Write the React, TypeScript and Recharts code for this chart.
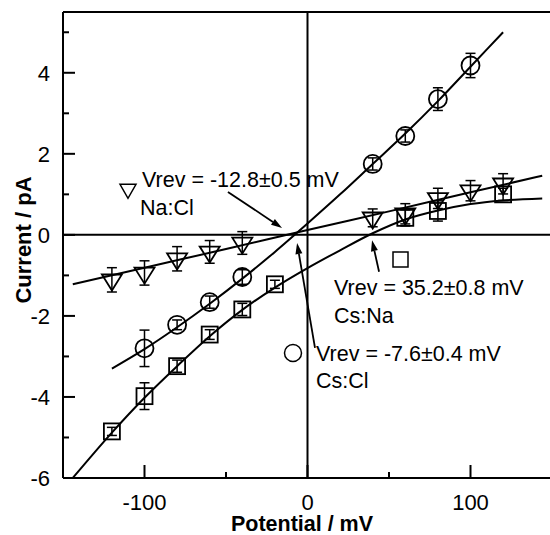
import React from "react";
import {
  ComposedChart, Line, Scatter, ErrorBar, XAxis, YAxis, ReferenceLine, Customized,
} from "recharts";

const FONT = "'Liberation Sans', Arial, Helvetica, sans-serif";

// measured points: potential (mV), current (pA), error (pA)
const csClV = [-100, -80, -60, -40, 40, 60, 80, 100];
const csClI = [-2.8, -2.22, -1.66, -1.04, 1.75, 2.44, 3.35, 4.18];
const csClErr = [0.45, 0.12, 0.15, 0.18, 0.15, 0.15, 0.28, 0.3];

const csNaV = [-120, -100, -80, -60, -40, -20, 60, 80, 120];
const csNaI = [-4.85, -3.98, -3.24, -2.46, -1.84, -1.22, 0.42, 0.59, 1.0];
const csNaErr = [0.1, 0.33, 0.15, 0.12, 0.15, 0.1, 0.2, 0.25, 0.15];

const naClV = [-120, -100, -80, -60, -40, 40, 60, 80, 100, 120];
const naClI = [-1.11, -0.94, -0.59, -0.42, -0.2, 0.42, 0.52, 0.9, 1.09, 1.26];
const naClErr = [0.3, 0.3, 0.3, 0.28, 0.28, 0.22, 0.25, 0.25, 0.25, 0.25];

// fitted curves
const csClFitV = [-120, -100, -80, -60, -40, -20, 0, 20, 40, 60, 80, 100, 120];
const csClFitI = [-3.3, -2.82, -2.28, -1.7, -1.08, -0.42, 0.28, 1.0, 1.75, 2.5, 3.3, 4.15, 5.0];

const csNaFitV = [-144, -120, -100, -80, -60, -40, -20, 0, 20, 40, 60, 80, 100, 120, 144];
const csNaFitI = [-6.0, -4.88, -4.02, -3.24, -2.5, -1.85, -1.3, -0.82, -0.38, 0.04, 0.38, 0.6, 0.76, 0.85, 0.9];

const naClFitV = [-144, -100, -50, 0, 50, 100, 144];
const naClFitI = [-1.22, -0.81, -0.35, 0.12, 0.58, 1.05, 1.46];

const xTicks = [-100, -50, 0, 50, 100];
const yTicks = [-6, -5, -4, -3, -2, -1, 0, 1, 2, 3, 4, 5];

const pts = (xs: number[], ys: number[], es?: number[]) =>
  xs.map((x, i) => ({ x, y: ys[i], e: es ? es[i] : 0 }));

const csCl = pts(csClV, csClI, csClErr);
const csNa = pts(csNaV, csNaI, csNaErr);
const naCl = pts(naClV, naClI, naClErr);
const csClFit = pts(csClFitV, csClFitI);
const csNaFit = pts(csNaFitV, csNaFitI);
const naClFit = pts(naClFitV, naClFitI);

const SW = 1.8;

const circleShape = (p: any) => (
  <circle cx={p.cx} cy={p.cy} r={9} fill="none" stroke="#000" strokeWidth={SW} />
);
const squareShape = (p: any) => (
  <rect x={p.cx - 8} y={p.cy - 8} width={16} height={16} fill="none" stroke="#000" strokeWidth={SW} />
);
const triPoints = (cx: number, cy: number, w: number, h: number) =>
  `${cx - w / 2},${cy - h / 3} ${cx + w / 2},${cy - h / 3} ${cx},${cy + (2 * h) / 3}`;
const triangleShape = (p: any) => (
  <polygon points={triPoints(p.cx, p.cy, 20, 16)} fill="none" stroke="#000" strokeWidth={SW} />
);

const BottomTick = (p: any) => {
  const v = p.payload.value;
  const major = v % 100 === 0;
  return (
    <g>
      <line x1={p.x} y1={p.y} x2={p.x} y2={p.y - (major ? 13 : 6)} stroke="#000" strokeWidth={2} />
      {major && (
        <text x={p.x} y={p.y + 32} textAnchor="middle" fontSize={22} fontFamily={FONT} fill="#000">
          {v}
        </text>
      )}
    </g>
  );
};

const TopTick = (p: any) => {
  const major = p.payload.value % 100 === 0;
  return <line x1={p.x} y1={p.y} x2={p.x} y2={p.y + (major ? 13 : 7)} stroke="#000" strokeWidth={2} />;
};

const LeftTick = (p: any) => {
  const v = p.payload.value;
  const major = v % 2 === 0;
  return (
    <g>
      <line x1={p.x} y1={p.y} x2={p.x + (major ? 12 : 6)} y2={p.y} stroke="#000" strokeWidth={2} />
      {major && (
        <text x={50} y={p.y + 8} textAnchor="end" fontSize={22} fontFamily={FONT} fill="#000">
          {v}
        </text>
      )}
    </g>
  );
};

const RightTick = (p: any) => {
  const major = p.payload.value % 2 === 0;
  return <line x1={p.x} y1={p.y} x2={p.x - (major ? 12 : 6)} y2={p.y} stroke="#000" strokeWidth={2} />;
};

const Arrow = (p: any) => {
  const { x1, y1, x2, y2 } = p;
  const dx = x2 - x1;
  const dy = y2 - y1;
  const len = Math.hypot(dx, dy) || 1;
  const ux = dx / len;
  const uy = dy / len;
  const hl = 11;
  const hw = 3.5;
  const bx = x2 - ux * hl;
  const by = y2 - uy * hl;
  return (
    <g>
      <line x1={x1} y1={y1} x2={bx} y2={by} stroke="#000" strokeWidth={1.8} />
      <polygon
        points={`${x2},${y2} ${bx - uy * hw},${by + ux * hw} ${bx + uy * hw},${by - ux * hw}`}
        fill="#000"
      />
    </g>
  );
};

const Annotations = () => (
  <g fontFamily={FONT} fill="#000">
    <polygon points={triPoints(128, 189, 16, 14)} fill="none" stroke="#000" strokeWidth={1.5} />
    <text x={142} y={187} fontSize={21.5}>Vrev = -12.8±0.5 mV</text>
    <text x={140} y={215} fontSize={21.5}>Na:Cl</text>

    <rect x={393} y={252} width={15} height={15} fill="none" stroke="#000" strokeWidth={1.5} />
    <text x={334} y={295} fontSize={21.5}>Vrev = 35.2±0.8 mV</text>
    <text x={334} y={323} fontSize={21.5}>Cs:Na</text>

    <circle cx={293} cy={353} r={8.5} fill="none" stroke="#000" strokeWidth={1.5} />
    <text x={316} y={361} fontSize={21.5}>Vrev = -7.6±0.4 mV</text>
    <text x={316} y={388} fontSize={21.5}>Cs:Cl</text>

    <text x={31} y={240} fontSize={22} fontWeight="bold" textAnchor="middle" transform="rotate(-90, 31, 240)">
      Current / pA
    </text>
    <text x={302} y={531} fontSize={21.5} fontWeight="bold" textAnchor="middle">
      Potential / mV
    </text>
  </g>
);

const axisLine = { stroke: "#000", strokeWidth: 2 };

export default function App() {
  return (
    <div style={{ position: "absolute", left: 0, top: 0, width: 550, height: 535, overflow: "hidden", background: "#fff" }}>
      <ComposedChart width={560} height={535} margin={{ top: 11, right: 7, bottom: 56, left: 62 }}>
        <XAxis
          type="number" dataKey="x" domain={[-150, 150]} ticks={xTicks} interval={0}
          height={1} tickSize={0} tickMargin={0} tickLine={false} axisLine={axisLine} tick={BottomTick}
        />
        <XAxis
          xAxisId="t" orientation="top" type="number" dataKey="x" domain={[-150, 150]} ticks={xTicks} interval={0}
          height={1} tickSize={0} tickMargin={0} tickLine={false} axisLine={axisLine} tick={TopTick}
        />
        <YAxis
          type="number" dataKey="y" domain={[-6, 5.5]} ticks={yTicks} interval={0}
          width={1} tickSize={0} tickMargin={0} tickLine={false} axisLine={axisLine} tick={LeftTick}
        />
        <YAxis
          yAxisId="r" orientation="right" type="number" domain={[-6, 5.5]} ticks={yTicks} interval={0}
          width={1} tickSize={0} tickMargin={0} tickLine={false} axisLine={axisLine} tick={RightTick}
        />
        <ReferenceLine y={0} stroke="#000" strokeWidth={2} />
        <ReferenceLine x={0} stroke="#000" strokeWidth={2} />

        <Line data={csClFit} dataKey="y" type="monotone" dot={false} stroke="#000" strokeWidth={2} isAnimationActive={false} />
        <Line data={csNaFit} dataKey="y" type="monotone" dot={false} stroke="#000" strokeWidth={2} isAnimationActive={false} />
        <Line data={naClFit} dataKey="y" type="monotone" dot={false} stroke="#000" strokeWidth={2} isAnimationActive={false} />

        <Scatter data={csCl} dataKey="y" shape={circleShape} isAnimationActive={false}>
          <ErrorBar dataKey="e" direction="y" width={5} stroke="#000" strokeWidth={1.5} />
        </Scatter>
        <Scatter data={csNa} dataKey="y" shape={squareShape} isAnimationActive={false}>
          <ErrorBar dataKey="e" direction="y" width={5} stroke="#000" strokeWidth={1.5} />
        </Scatter>
        <Scatter data={naCl} dataKey="y" shape={triangleShape} isAnimationActive={false}>
          <ErrorBar dataKey="e" direction="y" width={5} stroke="#000" strokeWidth={1.5} />
        </Scatter>

        <ReferenceLine segment={[{ x: -48.8, y: 1.06 }, { x: -15.6, y: 0.17 }]} shape={Arrow} />
        <ReferenceLine segment={[{ x: 43.9, y: -0.91 }, { x: 39.6, y: -0.13 }]} shape={Arrow} />
        <ReferenceLine segment={[{ x: 4.6, y: -2.79 }, { x: -6.4, y: -0.2 }]} shape={Arrow} />

        <Customized component={<Annotations />} />
      </ComposedChart>
    </div>
  );
}
